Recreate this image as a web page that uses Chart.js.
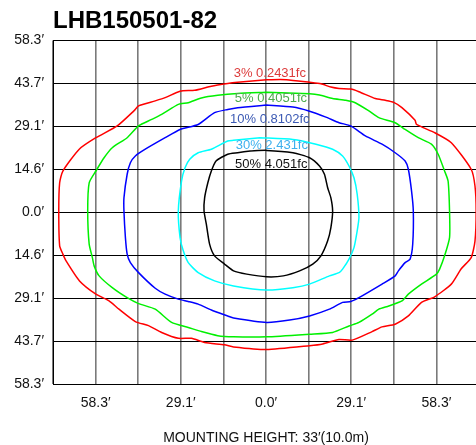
<!DOCTYPE html>
<html>
<head>
<meta charset="utf-8">
<script src="https://cdn.jsdelivr.net/npm/chart.js@4.4.0/dist/chart.umd.min.js"></script>
<style>
  html, body { margin: 0; padding: 0; overflow: hidden; background: #fff; }
  #wrap { width: 476px; height: 445px; overflow: hidden; }
</style>
</head>
<body>
<div id="wrap"><canvas id="chart" width="490" height="445"></canvas></div>
<script>
// Titels en labels
const chartTitle = 'LHB150501-82';
const axisTitle = 'MOUNTING HEIGHT: 33\u2032(10.0m)';
const gridStep = 14.575;
const xTickLabels = ['', '58.3\u2032', '', '29.1\u2032', '', '0.0\u2032', '', '29.1\u2032', '', '58.3\u2032', ''];
const yTickLabels = ['58.3\u2032', '43.7\u2032', '29.1\u2032', '14.6\u2032', '0.0\u2032', '14.6\u2032', '29.1\u2032', '43.7\u2032', '58.3\u2032'];

const contourNames = ['3% 0.2431fc', '5% 0.4051fc', '10% 0.8102fc', '30% 2.431fc', '50% 4.051fc'];

// Isolijnen, [x, y] in voet
const contour3 = [[0.2,45.0],[7.0,45.0],[14.9,44.1],[18.8,43.6],[22.2,42.5],[25.0,42.0],[29.0,41.8],[31.8,40.9],[37.4,38.6],[40.8,38.0],[43.7,37.3],[46.5,35.5],[51.0,31.2],[51.5,29.8],[57.7,27.0],[63.4,23.6],[70.2,14.6],[71.5,8.9],[71.9,0.4],[71.5,-9.8],[70.2,-15.4],[66.8,-19.2],[63.4,-24.4],[57.7,-28.7],[53.2,-30.6],[48.7,-35.2],[44.2,-38.0],[39.7,-38.9],[36.3,-40.5],[29.5,-43.4],[25.0,-43.2],[19.4,-44.7],[14.9,-45.3],[0.2,-46.6],[-11.1,-45.7],[-14.2,-45.0],[-21.0,-44.2],[-25.5,-42.8],[-30.0,-42.8],[-35.7,-40.8],[-40.2,-38.5],[-44.7,-37.1],[-50.3,-32.9],[-53.7,-30.1],[-58.2,-27.8],[-63.8,-23.3],[-68.4,-16.5],[-69.5,-14.2],[-70.6,-11.4],[-70.9,0.4],[-70.6,10.0],[-69.5,14.0],[-63.9,21.4],[-58.2,25.3],[-50.9,29.3],[-45.2,34.4],[-43.6,36.1],[-37.9,37.8],[-34.5,38.9],[-29.4,41.1],[-24.4,41.4],[-18.7,42.8],[-13.1,43.7],[-9.7,44.1],[0.2,45.0]];
const contour5 = [[0.2,40.7],[14.9,40.2],[18.3,39.8],[22.8,38.6],[27.3,38.0],[30.7,37.1],[35.2,34.4],[38.6,32.1],[44.2,30.4],[47.6,28.1],[52.1,25.3],[56.6,23.1],[58.9,19.7],[61.1,14.0],[62.3,10.6],[62.8,0.4],[62.8,-8.6],[61.1,-14.8],[59.4,-19.3],[58.3,-21.0],[53.2,-24.4],[48.7,-27.8],[46.5,-30.1],[42.0,-31.8],[38.6,-32.9],[36.3,-34.6],[31.8,-37.4],[28.4,-38.6],[22.8,-40.8],[14.9,-41.4],[0.2,-42.3],[-11.1,-42.3],[-16.5,-41.9],[-22.1,-40.5],[-26.6,-39.1],[-32.3,-37.4],[-37.9,-32.9],[-43.6,-31.0],[-47.5,-29.0],[-52.6,-25.6],[-57.1,-21.6],[-58.8,-18.2],[-59.4,-15.4],[-60.5,-10.8],[-61.0,0.4],[-60.5,10.0],[-58.2,14.0],[-55.4,18.5],[-52.6,21.9],[-47.5,25.3],[-43.6,29.3],[-39.1,31.5],[-35.7,33.2],[-30.0,36.6],[-26.6,37.2],[-22.1,38.8],[-16.5,39.7],[-9.7,40.3],[0.2,40.7]];
const contour10 = [[0.2,36.4],[9.2,35.7],[14.9,34.3],[20.5,32.3],[25.0,30.4],[29.0,29.3],[34.0,25.9],[39.7,23.1],[44.2,20.2],[47.6,17.4],[48.7,14.6],[49.8,7.2],[50.4,0.4],[50.2,-10.8],[49.3,-15.9],[47.6,-17.1],[45.3,-19.9],[44.2,-21.6],[39.7,-24.4],[31.8,-29.0],[29.0,-30.3],[26.2,-30.6],[21.7,-32.9],[14.9,-35.2],[8.1,-36.6],[0.2,-37.4],[-11.1,-35.9],[-13.1,-35.2],[-18.7,-33.2],[-23.2,-31.2],[-26.6,-30.3],[-30.0,-29.5],[-34.5,-27.8],[-37.9,-25.8],[-43.6,-20.5],[-46.4,-17.1],[-47.5,-14.2],[-48.1,-8.6],[-48.6,0.4],[-48.6,4.9],[-47.5,12.9],[-46.4,16.8],[-44.7,19.1],[-41.3,21.4],[-34.5,25.3],[-29.4,28.1],[-23.2,29.8],[-17.6,33.8],[-13.1,34.9],[-9.7,35.5],[0.2,36.4]];
const contour30 = [[-2.0,25.3],[9.2,24.7],[17.1,23.1],[22.8,21.4],[26.2,19.1],[28.4,15.7],[30.1,11.7],[31.2,6.1],[31.8,-1.8],[31.2,-6.3],[30.1,-12.0],[28.4,-15.9],[26.2,-19.3],[25.0,-20.5],[21.7,-21.6],[14.9,-24.4],[9.2,-25.6],[0.2,-26.4],[-11.1,-25.0],[-17.6,-23.3],[-23.2,-20.5],[-26.6,-17.1],[-28.3,-13.1],[-29.4,-8.6],[-30.0,0.4],[-28.9,10.6],[-27.7,15.1],[-26.1,18.0],[-23.2,20.2],[-18.7,21.4],[-13.1,24.2],[-11.1,24.4],[-2.0,25.3]];
const contour50 = [[-5.4,20.8],[0.2,21.0],[9.2,20.2],[14.9,18.5],[18.3,15.7],[20.0,12.9],[21.1,8.3],[22.2,4.9],[22.8,0.4],[22.2,-5.2],[21.1,-9.7],[18.8,-14.8],[16.0,-17.6],[11.5,-19.9],[5.9,-21.6],[0.2,-21.9],[-6.6,-21.0],[-11.1,-19.9],[-14.2,-17.6],[-17.6,-14.8],[-19.3,-10.8],[-20.4,-4.1],[-21.2,0.4],[-21.0,4.9],[-19.9,10.0],[-18.7,14.0],[-17.1,17.4],[-13.1,19.7],[-9.7,20.2],[-5.4,20.8]];

const lineColors = ['#ff0000', '#00f000', '#0000ff', '#00ffff', '#000000'];
const textColors = ['#dc3c3c', '#4caa4c', '#3c5ab4', '#3cb0ee', '#111111'];

const toPoints = (arr) => arr.map((p) => ({ x: p[0], y: p[1] }));
const contours = [contour3, contour5, contour10, contour30, contour50];

// Labels bij de lijnen, plek in voet
const labelSpots = [[1.3, 47.1], [1.7, 38.6], [1.3, 31.5], [2.0, 22.8], [1.8, 16.3]];

const textPlugin = {
    id: 'texts',
    afterDatasetsDraw(chart) {
        const ctx = chart.ctx;
        const xs = chart.scales.x;
        const ys = chart.scales.y;
        ctx.save();
        ctx.font = '13px "Liberation Sans", Arial, sans-serif';
        ctx.textAlign = 'center';
        ctx.textBaseline = 'middle';
        contourNames.forEach((name, i) => {
            ctx.fillStyle = textColors[i];
            ctx.fillText(name, xs.getPixelForValue(labelSpots[i][0]), ys.getPixelForValue(labelSpots[i][1]));
        });
        // titel
        ctx.fillStyle = '#000';
        ctx.font = 'bold 24px "Liberation Sans", Arial, sans-serif';
        ctx.textAlign = 'left';
        ctx.textBaseline = 'alphabetic';
        ctx.fillText(chartTitle, chart.chartArea.left, 28);
        ctx.restore();
    }
};

new Chart(document.getElementById('chart'), {
    type: 'scatter',
    data: {
        datasets: contours.map((c, i) => ({
            label: contourNames[i],
            data: toPoints(c),
            showLine: true,
            borderColor: lineColors[i],
            borderWidth: 1.5,
            pointRadius: 0,
            tension: 0.2,
            fill: false
        }))
    },
    options: {
        responsive: false,
        animation: false,
        layout: { padding: { top: 40.5, right: 6, left: 0, bottom: 0 } },
        plugins: {
            legend: { display: false },
            tooltip: { enabled: false }
        },
        scales: {
            x: {
                type: 'linear',
                min: -5 * gridStep,
                max: 5 * gridStep,
                afterBuildTicks: (scale) => {
                    scale.ticks = xTickLabels.map((l, i) => ({ value: (i - 5) * gridStep }));
                },
                afterFit: (scale) => { scale.height = 61; },
                ticks: {
                    autoSkip: false,
                    maxRotation: 0,
                    padding: 11,
                    color: '#111',
                    font: { family: '"Liberation Sans", Arial, sans-serif', size: 14 },
                    callback: (v, i) => xTickLabels[i]
                },
                grid: { color: '#7a7a7a', lineWidth: 1.6, drawTicks: false },
                border: { color: '#000', width: 1 },
                title: {
                    display: true,
                    text: axisTitle,
                    color: '#111',
                    padding: { top: 0, bottom: -2 },
                    font: { family: '"Liberation Sans", Arial, sans-serif', size: 14 }
                }
            },
            y: {
                type: 'linear',
                min: -4 * gridStep,
                max: 4 * gridStep,
                afterBuildTicks: (scale) => {
                    scale.ticks = yTickLabels.map((l, i) => ({ value: (i - 4) * gridStep }));
                },
                afterFit: (scale) => { scale.width = 53; },
                ticks: {
                    autoSkip: false,
                    padding: 9,
                    color: '#111',
                    font: { family: '"Liberation Sans", Arial, sans-serif', size: 14 },
                    callback: (v, i) => yTickLabels[yTickLabels.length - 1 - i]
                },
                grid: { color: '#000', lineWidth: 1, drawTicks: false },
                border: { color: '#000', width: 1 }
            }
        }
    },
    plugins: [textPlugin]
});
</script>
</body>
</html>
